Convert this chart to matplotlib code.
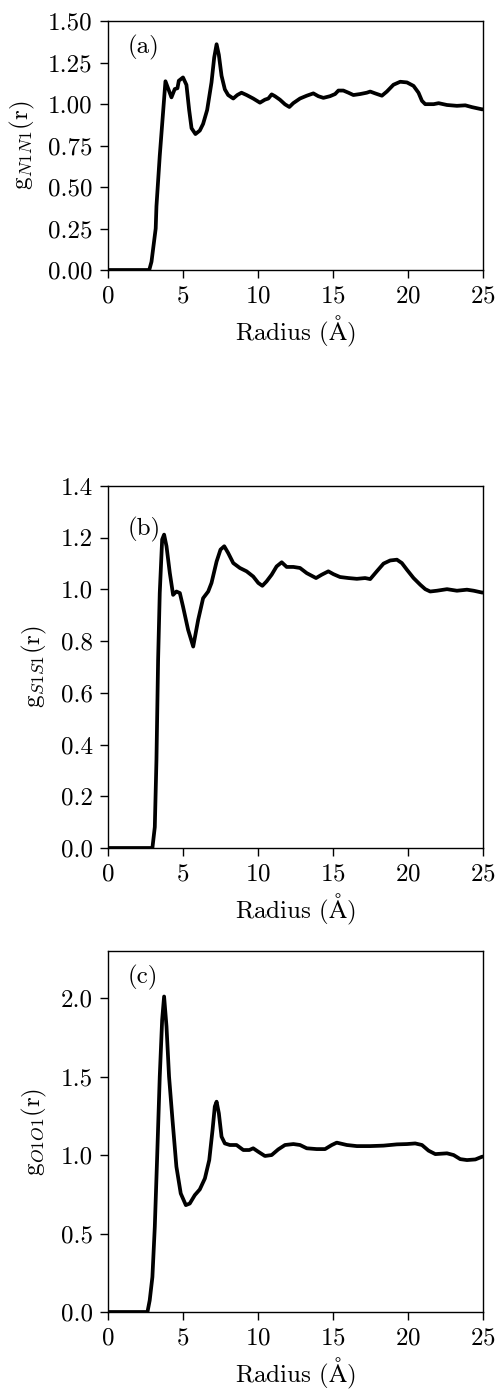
import matplotlib
matplotlib.use("Agg")
import matplotlib.pyplot as plt
import numpy as np

# radial distribution functions
r_a = [0.0, 2.75, 2.9, 3.18, 3.23, 3.45, 3.83, 4.23, 4.45, 4.63, 4.72, 5.0, 5.23, 5.41, 5.57,
       5.83, 6.12, 6.34, 6.61, 6.9, 7.08, 7.24, 7.39, 7.57, 7.79, 8.01, 8.35, 8.62, 8.9,
       9.24, 9.68, 10.13, 10.46, 10.69, 10.91, 11.13, 11.46, 11.8, 12.09, 12.35, 12.8,
       13.25, 13.69, 14.02, 14.36, 14.8, 15.14, 15.36, 15.69, 16.03, 16.36, 16.81, 17.25,
       17.48, 17.81, 18.26, 18.59, 19.03, 19.48, 19.93, 20.37, 20.7, 20.93, 21.15, 21.71,
       22.04, 22.6, 23.26, 23.82, 24.27, 24.93, 25.0]
g_a = [0.0, 0.0, 0.05, 0.25, 0.384, 0.688, 1.137, 1.04, 1.09, 1.095, 1.14, 1.16, 1.115, 0.964,
       0.854, 0.819, 0.84, 0.88, 0.964, 1.13, 1.28, 1.36, 1.296, 1.17, 1.088, 1.054, 1.033,
       1.054, 1.068, 1.054, 1.033, 1.008, 1.026, 1.033, 1.058, 1.047, 1.026, 0.998, 0.982,
       1.005, 1.033, 1.05, 1.064, 1.047, 1.037, 1.047, 1.06, 1.081, 1.081, 1.068, 1.054,
       1.06, 1.068, 1.075, 1.064, 1.05, 1.075, 1.116, 1.134, 1.13, 1.109, 1.068, 1.019,
       0.999, 0.999, 1.005, 0.994, 0.989, 0.992, 0.981, 0.968, 0.968]

r_b = [0.0, 2.96, 3.12, 3.23, 3.34, 3.45, 3.61, 3.74, 3.9, 4.12, 4.34, 4.56, 4.79, 5.0, 5.34,
       5.68, 6.01, 6.34, 6.68, 6.9, 7.24, 7.5, 7.75, 8.01, 8.35, 8.79, 9.24, 9.68, 10.02,
       10.29, 10.57, 10.91, 11.24, 11.58, 11.91, 12.36, 12.8, 13.25, 13.87, 14.25, 14.69,
       15.03, 15.47, 16.03, 16.59, 17.14, 17.48, 17.92, 18.37, 18.81, 19.26, 19.59, 19.93,
       20.37, 20.82, 21.15, 21.48, 21.93, 22.6, 23.26, 23.93, 24.38, 24.93, 25.0]
g_b = [0.0, 0.0, 0.081, 0.34, 0.727, 0.986, 1.193, 1.212, 1.167, 1.064, 0.979, 0.992, 0.986,
       0.934, 0.844, 0.779, 0.882, 0.966, 0.992, 1.025, 1.108, 1.154, 1.167, 1.141, 1.102,
       1.083, 1.07, 1.05, 1.025, 1.014, 1.031, 1.057, 1.089, 1.105, 1.087, 1.087, 1.083,
       1.063, 1.044, 1.057, 1.07, 1.059, 1.048, 1.044, 1.041, 1.044, 1.04, 1.07, 1.1, 1.112,
       1.115, 1.102, 1.076, 1.044, 1.018, 1.001, 0.992, 0.995, 1.001, 0.995, 0.999, 0.995,
       0.988, 0.988]

r_c = [0.0, 2.63, 2.78, 2.96, 3.12, 3.27, 3.45, 3.61, 3.74, 3.9, 4.07, 4.3, 4.56, 4.85, 5.19,
       5.45, 5.79, 6.12, 6.46, 6.75, 6.97, 7.12, 7.24, 7.39, 7.57, 7.79, 8.12, 8.57, 9.02,
       9.42, 9.68, 10.02, 10.46, 10.91, 11.35, 11.8, 12.36, 12.8, 13.25, 13.91, 14.47,
       14.92, 15.25, 15.92, 16.59, 17.48, 18.37, 19.26, 19.93, 20.48, 20.93, 21.37, 21.82,
       22.6, 23.04, 23.48, 23.93, 24.49, 24.93, 25.0]
g_c = [0.0, 0.0, 0.074, 0.223, 0.543, 0.968, 1.5, 1.862, 2.01, 1.819, 1.5, 1.223, 0.926,
       0.755, 0.681, 0.691, 0.745, 0.781, 0.851, 0.968, 1.16, 1.309, 1.34, 1.266, 1.117,
       1.074, 1.064, 1.064, 1.032, 1.032, 1.043, 1.021, 0.994, 1.0, 1.036, 1.064, 1.07,
       1.064, 1.043, 1.038, 1.038, 1.064, 1.079, 1.064, 1.057, 1.057, 1.06, 1.068, 1.07,
       1.074, 1.064, 1.028, 1.006, 1.011, 1.0, 0.974, 0.968, 0.972, 0.989, 0.99]

panels = [
    (r_a, g_a, r"g$_{N1N1}$(r)", "(a)", 1.5, [0, 0.25, 0.5, 0.75, 1.0, 1.25, 1.5], "%.2f"),
    (r_b, g_b, r"g$_{S1S1}$(r)", "(b)", 1.4, [0, 0.2, 0.4, 0.6, 0.8, 1.0, 1.2, 1.4], "%.1f"),
    (r_c, g_c, r"g$_{O1O1}$(r)", "(c)", 2.3, [0, 0.5, 1.0, 1.5, 2.0], "%.1f"),
]
# where the panel tag sits, in axes fraction
tag_pos = [(0.053, 0.945), (0.053, 0.915), (0.053, 0.962)]

plt.rcParams["font.family"] = ["cmr10", "DejaVu Serif"]
plt.rcParams["mathtext.fontset"] = "cm"
plt.rcParams["axes.formatter.use_mathtext"] = True
plt.rcParams["font.size"] = 18

W, H = 499, 1393
fig = plt.figure(figsize=(W / 100, H / 100), dpi=100)
# axes boxes in pixels: (left, top, right, bottom)
boxes = [(108, 21, 483, 270), (108, 486, 483, 848), (108, 951, 483, 1312)]

for (r, g, ylab, tag, ytop, yticks, fmt), (x0, y0, x1, y1), (tx, ty) in zip(panels, boxes, tag_pos):
    ax = fig.add_axes([x0 / W, 1 - y1 / H, (x1 - x0) / W, (y1 - y0) / H])
    ax.plot(r, g, color="black", lw=2.7)
    ax.set_xlim(0, 25)
    ax.set_ylim(0, ytop)
    ax.set_xticks([0, 5, 10, 15, 20, 25])
    ax.set_yticks(yticks)
    ax.set_yticklabels([fmt % v for v in yticks])
    ax.set_xlabel(r"Radius ($\mathrm{\AA}$)", labelpad=5)
    ax.set_ylabel(ylab, labelpad=8)
    ax.text(tx, ty, tag, transform=ax.transAxes, ha="left", va="top")
    ax.tick_params(direction="out", length=6, width=1.0, pad=5)
    for s in ax.spines.values():
        s.set_linewidth(1.0)

fig.savefig("out.png", dpi=100)
